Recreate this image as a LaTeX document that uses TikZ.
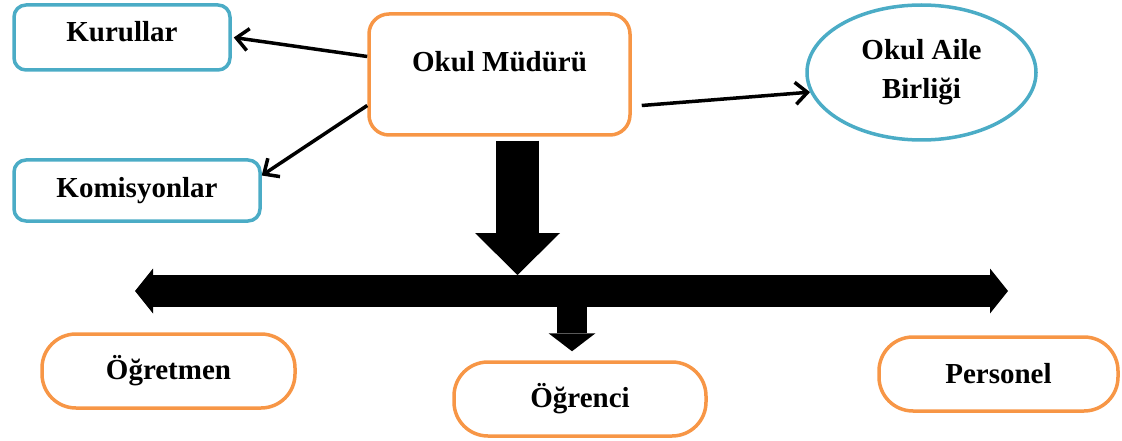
\documentclass[tikz,border=0pt]{standalone}
\usepackage{fontspec}
\setmainfont{Liberation Serif}
\usetikzlibrary{positioning,arrows.meta,shapes.geometric}
\definecolor{unitblue}{HTML}{4BACC6}
\definecolor{unitorange}{HTML}{F79646}
\tikzset{>={Straight Barb[length=12pt,width=22pt,line width=3.5pt]},
  label font/.style={font=\bfseries\fontsize{29}{39}\selectfont},
  blue unit/.style={draw=unitblue,line width=3.5pt,rounded corners=12pt,inner sep=0pt,label font},
  orange unit/.style={draw=unitorange,line width=3.5pt,rounded corners=34pt,inner sep=0pt,label font},
  link/.style={->,line width=3.5pt},
  fat/.style={line width=#1}}

\begin{document}
\begin{tikzpicture}[x=1pt,y=-1pt]
\useasboundingbox (0,0) rectangle (1122,441);
\node[blue unit,minimum width=216pt,minimum height=65pt,text height=20pt,text depth=11pt] (kurul) at (122,37.5) {Kurullar};
\node[blue unit,minimum width=246pt,minimum height=61pt] (komisyon) at (137,190.5) {Komisyonlar};
\node[draw=unitorange,line width=3.5pt,rounded corners=20pt,inner sep=0pt,label font,
  minimum width=261pt,minimum height=121pt,text height=20pt,text depth=25pt] (mudur) at (499.5,74.5) {Okul Müdürü};
\node[ellipse,draw=unitblue,line width=3.5pt,inner sep=0pt,label font,align=center,
  minimum width=229pt,minimum height=135pt] (aile) at (921.5,72.5) {Okul Aile\\Birliği};
\node[orange unit,minimum width=253pt,minimum height=74pt] (ogretmen) at (168.5,371) {Öğretmen};
\node[orange unit,minimum width=252pt,minimum height=74pt] (ogrenci) at (580,399) {Öğrenci};
\node[orange unit,minimum width=239pt,minimum height=74pt] (personel) at (998.5,374) {Personel};
\draw[link] ([yshift=18pt]mudur.west) -- ([xshift=2pt]kurul.east);
\draw[link] ([yshift=-31pt]mudur.west) -- ([yshift=15pt]komisyon.east);
\draw[link] ([xshift=10pt,yshift=-31pt]mudur.east) -- (aile.190);
\coordinate (barL) at (135,291);
\coordinate (barR) at (1008,291);
\coordinate (barT) at (517.5,275);
\coordinate (split) at (572,306);
\draw[fat=32pt,{Triangle[length=18pt,width=45pt,line width=0pt]}-{Triangle[length=18pt,width=45pt,line width=0pt]}] (barL) -- (barR);
\draw[fat=43pt,-{Triangle[length=42pt,width=85pt,line width=0pt]}] ([xshift=18pt,yshift=-4pt]mudur.south) -- (barT);
\draw[fat=30pt,-{Triangle[length=18pt,width=47pt,line width=0pt]}] (split) -- ([xshift=-8pt,yshift=9pt]ogrenci.north);
\end{tikzpicture}
\end{document}
